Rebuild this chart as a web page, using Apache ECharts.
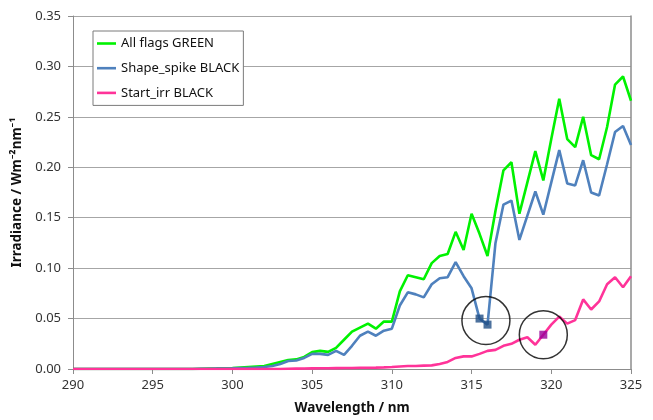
<!DOCTYPE html>
<html>
<head>
<meta charset="utf-8">
<script src="https://cdn.jsdelivr.net/npm/echarts@6/dist/echarts.min.js"></script>
<style>html,body{margin:0;padding:0;background:#fff;overflow:hidden}#c{width:653px;height:420px}</style>
</head>
<body>
<div id="c"></div>
<script>
const wavelengths = [290,290.5,291,291.5,292,292.5,293,293.5,294,294.5,295,295.5,296,296.5,297,297.5,298,298.5,299,299.5,300,300.5,301,301.5,302,302.5,303,303.5,304,304.5,305,305.5,306,306.5,307,307.5,308,308.5,309,309.5,310,310.5,311,311.5,312,312.5,313,313.5,314,314.5,315,315.5,316,316.5,317,317.5,318,318.5,319,319.5,320,320.5,321,321.5,322,322.5,323,323.5,324,324.5,325];
const allFlagsGreen = [0,0,0,0,0,0,0,0,0,0,0,0,0,0,0,0,0.0003,0.0005,0.0006,0.0008,0.001,0.0015,0.002,0.0025,0.003,0.005,0.007,0.009,0.0095,0.012,0.0167,0.018,0.017,0.021,0.029,0.037,0.041,0.045,0.040,0.047,0.047,0.077,0.093,0.091,0.089,0.105,0.112,0.114,0.136,0.118,0.154,0.134,0.112,0.157,0.197,0.205,0.154,0.185,0.216,0.187,0.228,0.268,0.228,0.220,0.250,0.212,0.208,0.240,0.282,0.290,0.266];
const shapeSpikeBlack = [0,0,0,0,0,0,0,0,0,0,0,0,0,0,0,0,0.0002,0.0003,0.0004,0.0005,0.0007,0.001,0.0012,0.0015,0.002,0.003,0.005,0.008,0.0085,0.011,0.015,0.015,0.014,0.018,0.014,0.023,0.033,0.037,0.033,0.038,0.040,0.063,0.076,0.074,0.071,0.084,0.090,0.091,0.106,0.092,0.080,0.050,0.044,0.125,0.163,0.167,0.128,0.152,0.176,0.153,0.185,0.217,0.184,0.182,0.207,0.175,0.172,0.203,0.235,0.241,0.222];
const startIrrBlack = [0,0,0,0,0,0,0,0,0,0,0,0,0,0,0,0,0,0,0,0,0,0,0,0,0,0,0,0.0003,0.0004,0.0005,0.0006,0.0007,0.0008,0.0009,0.001,0.001,0.0012,0.0013,0.0014,0.0016,0.002,0.0025,0.003,0.003,0.0033,0.0036,0.005,0.007,0.011,0.0125,0.0125,0.015,0.018,0.019,0.023,0.025,0.029,0.0315,0.024,0.034,0.044,0.052,0.045,0.0485,0.069,0.059,0.067,0.084,0.091,0.081,0.092];
const flaggedShapeSpike = [[315.5,0.050],[316,0.044]];
const flaggedStartIrr = [[319.5,0.034]];
const circleCentres = [[315.9,0.048],[319.5,0.034]];
const seriesNames = ['All flags GREEN','Shape_spike BLACK','Start_irr BLACK'];
const xTicks = {min:290,max:325,interval:5};
const yTicks = {min:0,max:0.35,interval:0.05};

const pair = arr => wavelengths.map((w,i)=>[w,arr[i]]);
const font = 'Noto Sans';
const lineSeries = (name, data, color) => ({
  name, type:'line', data:pair(data), symbol:'none', showSymbol:false,
  lineStyle:{color, width:2.6}, itemStyle:{color}, animation:false, z:2
});

const chart = echarts.init(document.getElementById('c'), null, {renderer:'canvas', width:653, height:420});
chart.setOption({
  animation:false,
  backgroundColor:'#fff',
  grid:{left:73, width:558, top:16, height:356, containLabel:false},
  legend:{
    data:seriesNames.map(n=>({name:n, icon:'rect'})), orient:'vertical', left:93, top:31,
    padding:[6,4,6,4], itemGap:11.7, itemWidth:19, itemHeight:2.6,
    backgroundColor:'#fff', borderColor:'#7a7a7a', borderWidth:1,
    textStyle:{fontFamily:font, fontSize:13, color:'#111'}
  },
  xAxis:{
    type:'value', min:xTicks.min, max:xTicks.max, interval:xTicks.interval,
    name:'Wavelength / nm', nameLocation:'middle', nameGap:32,
    nameTextStyle:{fontFamily:font, fontSize:13.5, fontWeight:'bold', color:'#111'},
    axisLine:{show:true, lineStyle:{color:'#8c8c8c', width:1}},
    axisTick:{show:true, length:5, lineStyle:{color:'#8c8c8c'}},
    axisLabel:{fontFamily:font, fontSize:13, color:'#333', margin:10},
    splitLine:{show:false}
  },
  yAxis:[{
    type:'value', min:yTicks.min, max:yTicks.max, interval:yTicks.interval,
    name:'Irradiance / Wm\u207B\u00B2nm\u207B\u00B9', nameLocation:'middle', nameGap:42,
    nameTextStyle:{fontFamily:font, fontSize:13.5, fontWeight:'bold', color:'#111'},
    axisLine:{show:true, lineStyle:{color:'#8c8c8c', width:1}},
    axisTick:{show:true, length:5, lineStyle:{color:'#8c8c8c'}},
    axisLabel:{fontFamily:font, fontSize:13, color:'#333', margin:12, formatter:v=>v.toFixed(2)},
    splitLine:{show:true, lineStyle:{color:'#a6a6a6', width:1}}
  },{
    type:'value', position:'right', min:yTicks.min, max:yTicks.max, interval:yTicks.interval,
    axisLine:{show:true, lineStyle:{color:'#8c8c8c', width:1.5}},
    axisTick:{show:false}, axisLabel:{show:false}, splitLine:{show:false}
  }],
  series:[
    lineSeries(seriesNames[0], allFlagsGreen, '#00f200'),
    lineSeries(seriesNames[1], shapeSpikeBlack, '#4f81bd'),
    lineSeries(seriesNames[2], startIrrBlack, '#ff3399'),
    {type:'scatter', data:flaggedShapeSpike, symbol:'rect', symbolSize:8,
     itemStyle:{color:'#1f4e85'}, z:4, silent:true},
    {type:'scatter', data:flaggedStartIrr, symbol:'rect', symbolSize:8,
     itemStyle:{color:'#990099'}, z:4, silent:true},
    {type:'scatter', data:circleCentres, symbol:'circle', symbolSize:48,
     itemStyle:{color:'rgba(0,0,0,0)', borderColor:'#000', borderWidth:1.5}, z:5, silent:true}
  ]
});
</script>
</body>
</html>
